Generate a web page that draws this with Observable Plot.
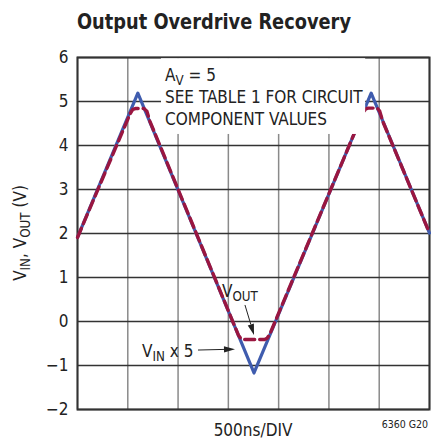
<!DOCTYPE html>
<html><head><meta charset="utf-8">
<script src="https://cdn.jsdelivr.net/npm/d3@7"></script>
<script src="https://cdn.jsdelivr.net/npm/@observablehq/plot@0.6"></script>
<style>body{margin:0;background:#fff} svg{display:block}</style>
</head><body><div id="chart"></div>
<script>
// Data (time in ns, volts)
const tVin = [0, 600, 1755, 2920, 3500];
const vVin = [1.91, 5.19, -1.17, 5.19, 2.01];
const tVout = [0, 525, 550, 575, 660, 690, 720, 1600, 1625, 1650, 1860, 1885, 1910, 2840, 2865, 2890, 2980, 3005, 3035, 3500];
const vVout = [1.91, 4.73, 4.82, 4.84, 4.84, 4.78, 4.55, -0.31, -0.39, -0.41, -0.41, -0.38, -0.30, 4.75, 4.83, 4.85, 4.85, 4.78, 4.55, 2.01];
const yTicks = [-2, -1, 0, 1, 2, 3, 4, 5, 6];
const xGrid = [0, 500, 1000, 1500, 2000, 2500, 3000, 3500];

const FONT = "'DejaVu Sans Condensed', 'Liberation Sans Narrow', 'Liberation Sans', sans-serif";
const vin = tVin.map((t, i) => ({t, v: vVin[i]}));
const vout = tVout.map((t, i) => ({t, v: vVout[i]}));

const plot = Plot.plot({
  width: 432, height: 440,
  marginTop: 57, marginBottom: 31, marginLeft: 77, marginRight: 3,
  x: {domain: [0, 3500], axis: null},
  y: {domain: [-2, 6], ticks: yTicks, tickSize: 0, tickPadding: 9, label: null,
      tickFormat: d => d < 0 ? "\u2212" + Math.abs(d) : String(d)},
  style: {fontFamily: FONT, fontSize: "17px", color: "#222", background: "#fff"},
  marks: [
    Plot.ruleX(xGrid, {stroke: "#8a8a8a", strokeWidth: 1.5}),
    Plot.ruleY(yTicks, {stroke: "#333", strokeWidth: 1.3}),
    Plot.frame({stroke: "#333", strokeWidth: 2}),
    Plot.line(vin, {x: "t", y: "v", stroke: "#3f5cae", strokeWidth: 3.2}),
    Plot.line(vout, {x: "t", y: "v", stroke: "#9a1640", strokeWidth: 3.4, strokeDasharray: "10,5"})
  ]
});
document.getElementById("chart").appendChild(plot);

const svg = d3.select(plot);
const sx = plot.scale("x"), sy = plot.scale("y");
const X = t => sx.apply(t), Y = v => sy.apply(v);

function richText(g, x, y, parts, size, anchor) {
  const txt = g.append("text").attr("x", x).attr("y", y)
    .attr("font-family", FONT).attr("font-size", size).attr("fill", "#222")
    .attr("text-anchor", anchor || "start");
  let shifted = false;
  parts.forEach(([s, sub]) => {
    const ts = txt.append("tspan").text(s);
    if (sub) { ts.attr("font-size", size * 0.78).attr("dy", size * 0.22); shifted = true; }
    else if (shifted) { ts.attr("dy", -size * 0.22); shifted = false; }
  });
  return txt;
}

// Annotation block
const notes = [
  {t: 875, v: 5.45, parts: [["A"], ["V", 1], [" = 5"]]},
  {t: 875, v: 4.95, parts: [["SEE TABLE 1 FOR CIRCUIT"]]},
  {t: 875, v: 4.46, parts: [["COMPONENT VALUES"]]}
];
const ng = svg.append("g");
const box = ng.append("rect").attr("fill", "#fff");
notes.forEach(n => richText(ng, X(n.t), Y(n.v), n.parts, 17));
const bb = ng.node().getBBox();
box.attr("x", bb.x - 4).attr("y", Y(6) + 1.2).attr("width", bb.width + 6).attr("height", bb.y + bb.height - Y(6) + 4);

// Curve labels and arrows
const ag = svg.append("g");
richText(ag, X(1442), Y(0.545), [["V"], ["OUT", 1]], 17);
richText(ag, X(646), Y(-0.818), [["V"], ["IN", 1], [" x 5"]], 17);

function arrow(t1, v1, t2, v2) {
  const x1 = X(t1), y1 = Y(v1), x2 = X(t2), y2 = Y(v2);
  const a = Math.atan2(y2 - y1, x2 - x1), L = 11, W = 3.2;
  const bx = x2 - L * Math.cos(a), by = y2 - L * Math.sin(a);
  ag.append("line").attr("x1", x1).attr("y1", y1).attr("x2", bx).attr("y2", by)
    .attr("stroke", "#222").attr("stroke-width", 1);
  ag.append("path").attr("fill", "#222")
    .attr("d", `M${x2},${y2}L${bx - W * Math.sin(a)},${by + W * Math.cos(a)}L${bx + W * Math.sin(a)},${by - W * Math.cos(a)}Z`);
}
arrow(1670, 0.364, 1760, -0.318);
arrow(1203, -0.66, 1571, -0.64);

// Title, axis label, notes
const tg = svg.append("g");
tg.append("text").attr("x", 77).attr("y", 29).attr("font-family", FONT).attr("font-weight", "bold")
  .attr("font-size", 22).attr("fill", "#222").attr("text-anchor", "start")
  .attr("textLength", 274).attr("lengthAdjust", "spacingAndGlyphs").text("Output Overdrive Recovery");
tg.append("text").attr("x", X(1750)).attr("y", 436).attr("font-family", FONT).attr("font-size", 17)
  .attr("fill", "#222").attr("text-anchor", "middle").text("500ns/DIV");
tg.append("text").attr("x", 428).attr("y", 428).attr("font-family", FONT).attr("font-size", 10.5)
  .attr("fill", "#222").attr("text-anchor", "end").text("6360 G20");
const yl = richText(tg, 0, 0, [["V"], ["IN", 1], [", V"], ["OUT", 1], [" (V)"]], 17, "middle");
yl.attr("transform", `translate(26,${(Y(6) + Y(-2)) / 2}) rotate(-90)`);
</script></body></html>
